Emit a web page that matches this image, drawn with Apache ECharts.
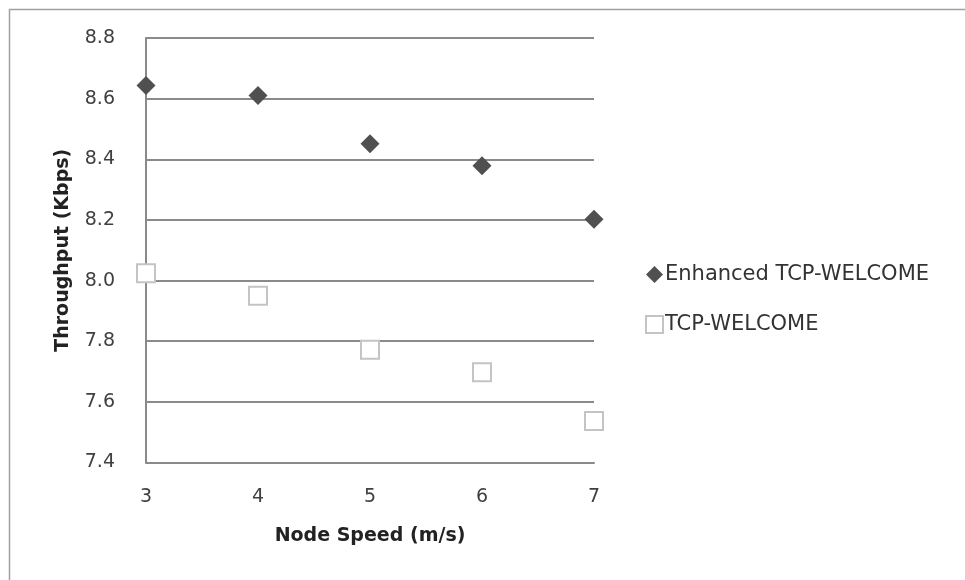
<!DOCTYPE html>
<html>
<head>
<meta charset="utf-8">
<script src="https://cdn.jsdelivr.net/npm/echarts@6/dist/echarts.min.js"></script>
<style>
  html, body { margin: 0; padding: 0; background: #fff; }
  #chart { width: 965px; height: 580px; }
</style>
</head>
<body>
<div id="chart"></div>
<script>
// Node speed (m/s) on the x axis
const speeds = [3, 4, 5, 6, 7];
// Throughput (Kbps) for each protocol
const enhancedThroughput = [8.643, 8.61, 8.451, 8.379, 8.202];
const welcomeThroughput = [8.024, 7.95, 7.772, 7.698, 7.537];
const seriesNames = ['Enhanced TCP-WELCOME', 'TCP-WELCOME'];

const pairs = (xs, ys) => xs.map((x, i) => [x, ys[i]]);

const font = 'DejaVu Sans';
const chart = echarts.init(document.getElementById('chart'), null, { renderer: 'canvas' });

chart.setOption({
  animation: false,
  backgroundColor: '#fff',
  graphic: [{
    type: 'rect',
    shape: { x: 9.5, y: 9.5, width: 1000, height: 1000 },
    style: { fill: 'none', stroke: '#a0a0a0', lineWidth: 1.5 },
    silent: true
  }],
  grid: { left: 146, right: 371, top: 38, bottom: 117.5, containLabel: false },
  legend: {
    orient: 'vertical',
    left: 640,
    top: 259,
    itemWidth: 17,
    itemHeight: 17,
    itemGap: 29,
    textStyle: { fontFamily: font, fontSize: 21, color: '#333', lineHeight: 20, padding: [0, 0, 0, -3] },
    data: [
      { name: seriesNames[0], icon: 'diamond' },
      { name: seriesNames[1], icon: 'rect' }
    ]
  },
  xAxis: {
    type: 'value',
    min: 3, max: 7, interval: 1,
    name: 'Node Speed (m/s)',
    nameLocation: 'middle',
    nameGap: 64,
    nameTextStyle: { fontFamily: font, fontSize: 19, fontWeight: 'bold', color: '#222' },
    axisLine: { show: true, lineStyle: { color: '#8a8a8a', width: 2 } },
    axisTick: { show: false },
    splitLine: { show: false },
    axisLabel: { margin: 25, fontFamily: font, fontSize: 19, color: '#404040' }
  },
  yAxis: {
    type: 'value',
    min: 7.4, max: 8.8, interval: 0.2,
    name: 'Throughput (Kbps)',
    nameLocation: 'middle',
    nameGap: 73,
    nameTextStyle: { fontFamily: font, fontSize: 19, fontWeight: 'bold', color: '#222' },
    axisLine: { show: true, lineStyle: { color: '#8a8a8a', width: 2 } },
    axisTick: { show: false },
    splitLine: { show: true, lineStyle: { color: '#8a8a8a', width: 2 } },
    axisLabel: {
      margin: 31, fontFamily: font, fontSize: 19, color: '#404040',
      formatter: v => v.toFixed(1)
    }
  },
  series: [
    {
      name: seriesNames[0],
      type: 'scatter',
      symbol: 'diamond',
      symbolSize: 19,
      itemStyle: { color: '#505050', opacity: 1 },
      data: pairs(speeds, enhancedThroughput)
    },
    {
      name: seriesNames[1],
      type: 'scatter',
      symbol: 'rect',
      symbolSize: 18,
      itemStyle: { color: '#ffffff', borderColor: '#c4c4c4', borderWidth: 2, opacity: 1 },
      data: pairs(speeds, welcomeThroughput)
    }
  ]
});
</script>
</body>
</html>
